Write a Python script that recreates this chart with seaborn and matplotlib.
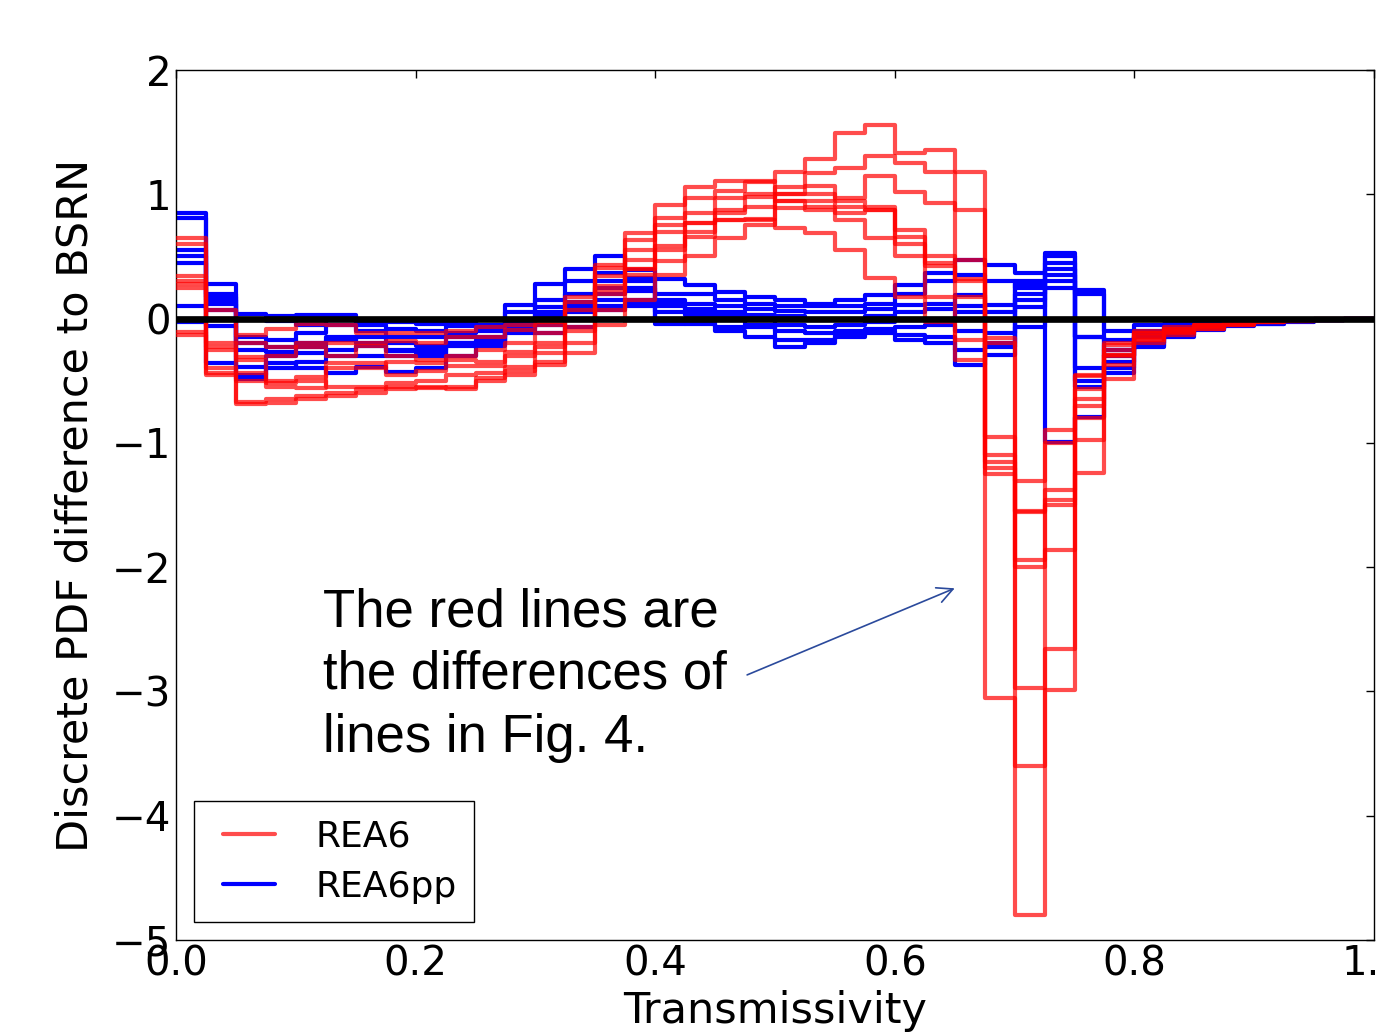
import numpy as np
import pandas as pd
import matplotlib
matplotlib.use("Agg")
import matplotlib.pyplot as plt
from matplotlib.lines import Line2D
from matplotlib.legend_handler import HandlerLine2D
import seaborn as sns

# ---- data: discrete PDF differences (40 bins, width 0.025) ----
bin_edges = [round(0.025 * i, 3) for i in range(41)]
bin_left = bin_edges[:-1]

rea6_a = [0.65, -0.2, -0.31, -0.3, -0.23, -0.3, -0.22, -0.3, -0.33, -0.3,
          -0.25, -0.2, -0.12, 0.07, 0.34, 0.63, 0.81, 0.97, 1.03, 1.1,
          1.18, 1.28, 1.49, 1.56, 1.33, 1.36, 1.18, -1.1, -1.55, -1.46,
          -0.65, -0.29, -0.17, -0.12, -0.08, -0.05, -0.03, -0.02, -0.01, 0.0]
rea6_b = [0.3, -0.44, -0.67, -0.65, -0.62, -0.6, -0.57, -0.55, -0.56, -0.55,
          -0.5, -0.45, -0.37, -0.2, 0.07, 0.35, 0.58, 0.77, 0.87, 0.98,
          1.06, 1.17, 1.21, 1.31, 1.25, 1.18, 0.87, -3.05, -4.8, -2.99,
          -1.24, -0.49, -0.2, -0.13, -0.08, -0.05, -0.03, -0.02, -0.01, 0.0]
rea6_c = [0.6, 0.07, -0.13, -0.08, -0.04, -0.05, -0.12, -0.12, -0.12, -0.1,
          -0.07, -0.05, -0.03, 0.17, 0.43, 0.69, 0.91, 1.06, 1.11, 1.11,
          1.0, 1.07, 0.97, 1.15, 1.02, 0.93, 0.47, -1.15, -3.6, -2.66,
          -0.98, -0.37, -0.15, -0.1, -0.06, -0.04, -0.02, -0.01, 0.0, 0.0]
rea6_d = [0.28, -0.23, -0.33, -0.5, -0.47, -0.4, -0.4, -0.35, -0.36, -0.33,
          -0.35, -0.27, -0.2, 0.0, 0.26, 0.47, 0.7, 0.85, 0.97, 1.0,
          0.95, 0.95, 0.9, 0.87, 0.71, 0.5, 0.32, -1.2, -2.97, -1.86,
          -0.8, -0.3, -0.12, -0.08, -0.05, -0.03, -0.02, -0.01, 0.0, 0.0]
rea6_e = [0.34, -0.25, -0.44, -0.52, -0.5, -0.55, -0.55, -0.52, -0.5, -0.45,
          -0.44, -0.39, -0.28, -0.1, 0.23, 0.4, 0.55, 0.7, 0.85, 0.9,
          0.89, 0.9, 0.85, 0.87, 0.66, 0.45, 0.17, -0.95, -1.94, -1.5,
          -0.57, -0.21, -0.1, -0.07, -0.05, -0.03, -0.02, -0.01, 0.0, 0.0]
rea6_f = [-0.11, -0.45, -0.69, -0.68, -0.65, -0.62, -0.6, -0.57, -0.55, -0.57,
          -0.48, -0.42, -0.35, -0.28, -0.05, 0.15, 0.35, 0.5, 0.65, 0.75,
          0.95, 0.87, 0.79, 0.65, 0.5, 0.17, -0.17, -0.16, -1.31, -1.0,
          -0.45, -0.2, -0.12, -0.08, -0.05, -0.03, -0.02, -0.01, -0.01, 0.0]
rea6_g = [0.25, 0.0, -0.2, -0.23, -0.2, -0.2, -0.2, -0.18, -0.2, -0.15,
          -0.15, -0.09, -0.05, 0.13, 0.41, 0.55, 0.75, 0.77, 0.79, 0.79,
          0.73, 0.69, 0.55, 0.33, 0.17, -0.03, -0.33, -0.2, -1.56, -0.9,
          -0.46, -0.25, -0.14, -0.1, -0.06, -0.04, -0.03, -0.02, -0.01, 0.0]
rea6_h = [-0.13, -0.4, -0.5, -0.55, -0.56, -0.36, -0.36, -0.45, -0.42, -0.38,
          -0.38, -0.3, -0.23, -0.07, 0.2, 0.4, 0.46, 0.66, 0.79, 0.8,
          1.0, 1.0, 0.95, 0.9, 0.6, 0.42, 0.3, -1.25, -2.0, -1.38,
          -0.7, -0.29, -0.17, -0.11, -0.07, -0.04, -0.03, -0.02, -0.01, 0.0]

rea6pp_a = [0.85, 0.28, 0.04, 0.02, 0.03, 0.03, -0.03, -0.03, -0.04, -0.03,
            -0.05, 0.11, 0.28, 0.4, 0.5, 0.39, 0.32, 0.27, 0.21, 0.17,
            0.15, 0.12, 0.15, 0.19, 0.27, 0.37, 0.47, 0.43, 0.37, 0.53,
            0.23, -0.1, -0.05, -0.04, -0.03, -0.02, -0.01, -0.01, 0.0, 0.0]
rea6pp_b = [0.81, 0.2, 0.0, -0.02, -0.05, -0.01, -0.05, -0.08, -0.1, -0.06,
            -0.08, 0.05, 0.15, 0.3, 0.37, 0.33, 0.2, 0.2, 0.15, 0.12,
            0.1, 0.1, 0.1, 0.12, 0.2, 0.3, 0.35, 0.3, 0.25, 0.45,
            0.2, -0.17, -0.1, -0.06, -0.04, -0.03, -0.02, -0.01, -0.01, 0.0]
rea6pp_c = [0.55, 0.17, -0.2, -0.23, -0.12, -0.05, -0.1, -0.15, -0.15, -0.12,
            -0.1, -0.02, 0.09, 0.2, 0.3, 0.3, 0.15, 0.12, 0.1, 0.08,
            0.06, 0.05, 0.05, 0.08, 0.11, 0.12, 0.19, 0.11, 0.2, 0.5,
            -0.15, -0.25, -0.12, -0.08, -0.05, -0.04, -0.03, -0.02, -0.01, 0.0]
rea6pp_d = [0.45, 0.15, -0.25, -0.27, -0.23, -0.15, -0.2, -0.26, -0.28, -0.2,
            -0.2, -0.06, 0.0, 0.13, 0.2, 0.22, 0.12, 0.08, 0.05, 0.03,
            0.02, 0.0, 0.0, 0.02, 0.05, 0.08, 0.1, 0.05, 0.09, 0.35,
            -0.15, -0.3, -0.15, -0.1, -0.07, -0.05, -0.03, -0.02, -0.01, 0.0]
rea6pp_e = [0.5, 0.07, -0.15, -0.17, -0.2, -0.17, -0.15, -0.2, -0.22, -0.15,
            -0.15, -0.03, 0.05, 0.1, 0.15, 0.15, 0.05, 0.03, 0.0, 0.0,
            -0.05, -0.07, -0.05, -0.03, 0.0, 0.0, 0.05, -0.12, 0.15, 0.3,
            -0.55, -0.44, -0.23, -0.15, -0.09, -0.06, -0.04, -0.03, -0.01, 0.0]
rea6pp_f = [0.1, -0.06, -0.39, -0.36, -0.4, -0.44, -0.39, -0.43, -0.4, -0.3,
            -0.22, -0.12, -0.12, -0.07, 0.07, 0.1, -0.04, -0.02, -0.07, -0.07,
            -0.1, -0.12, -0.1, -0.08, -0.07, -0.05, -0.1, -0.23, -0.07, 0.25,
            -0.5, -0.35, -0.2, -0.13, -0.08, -0.05, -0.04, -0.02, -0.01, 0.0]
rea6pp_g = [-0.03, -0.36, -0.49, -0.4, -0.35, -0.3, -0.3, -0.3, -0.3, -0.22,
            -0.2, -0.1, -0.05, 0.05, 0.1, 0.12, 0.0, -0.04, -0.1, -0.15,
            -0.23, -0.2, -0.15, -0.12, -0.13, -0.2, -0.37, -0.29, 0.3, -0.99,
            -0.79, -0.4, -0.22, -0.12, -0.08, -0.05, -0.03, -0.02, -0.01, 0.0]
rea6pp_h = [0.0, 0.12, -0.45, -0.3, -0.28, -0.25, -0.22, -0.25, -0.25, -0.2,
            -0.17, -0.08, 0.02, 0.07, 0.25, 0.25, 0.1, 0.05, 0.02, -0.05,
            -0.17, -0.17, -0.12, -0.1, -0.17, -0.15, -0.25, -0.2, 0.28, 0.4,
            -0.4, -0.25, -0.15, -0.1, -0.06, -0.04, -0.03, -0.02, -0.01, 0.0]

rea6_runs = [rea6_a, rea6_b, rea6_c, rea6_d, rea6_e, rea6_f, rea6_g, rea6_h]
rea6pp_runs = [rea6pp_a, rea6pp_b, rea6pp_c, rea6pp_d, rea6pp_e, rea6pp_f, rea6pp_g, rea6pp_h]

x_ticks = [0.0, 0.2, 0.4, 0.6, 0.8, 1.0]
y_ticks = [-5, -4, -3, -2, -1, 0, 1, 2]

def to_long(runs):
    rows = []
    for k, vals in enumerate(runs):
        for xl, v in zip(bin_left, vals):
            rows.append({"t": xl + 0.0125, "w": v, "run": f"r{k}"})
    return pd.DataFrame(rows)

df_red = to_long(rea6_runs)
df_blue = to_long(rea6pp_runs)

# ---- figure ----
sns.set_style("white")
plt.rcParams["font.family"] = ["DejaVu Sans"]
plt.rcParams["xtick.direction"] = "in"
plt.rcParams["ytick.direction"] = "in"
plt.rcParams["text.color"] = "black"
plt.rcParams["axes.labelcolor"] = "black"
plt.rcParams["xtick.color"] = "black"
plt.rcParams["ytick.color"] = "black"

fig = plt.figure(figsize=(13.82, 10.34), dpi=100)
ax = fig.add_axes([0.1274, 0.0909, 0.8668, 0.8414])

sns.histplot(data=df_blue, x="t", weights="w", hue="run", bins=bin_edges,
             element="step", fill=False, palette=["#0000ff"] * 8,
             linewidth=3, legend=False, ax=ax, zorder=2)
sns.histplot(data=df_red, x="t", weights="w", hue="run", bins=bin_edges,
             element="step", fill=False, palette=["#ff0000"] * 8,
             linewidth=3, alpha=0.7, legend=False, ax=ax, zorder=3)

ax.axhline(0, color="black", lw=4.8, zorder=5)

ax.set_xlim(0, 1)
ax.set_ylim(-5, 2)
ax.set_xticks(x_ticks)
ax.set_yticks(y_ticks)
ax.tick_params(axis="both", which="major", labelsize=29, length=6, width=1,
               top=True, right=True, color="black", labelcolor="black")
for s in ax.spines.values():
    s.set_visible(True)
    s.set_color("black")
    s.set_linewidth(1)

ax.set_xlabel("Transmissivity", fontsize=31, labelpad=4, color="black")
ax.set_ylabel("Discrete PDF difference to BSRN", fontsize=31, labelpad=11,
              color="black")

handles = [Line2D([], [], color="#ff0000", alpha=0.7, lw=3),
           Line2D([], [], color="#0000ff", lw=3)]
leg = ax.legend(handles, ["REA6", "REA6pp"], loc="lower left",
                bbox_to_anchor=(0.015, 0.021), borderaxespad=0,
                fontsize=26, handlelength=1.75, handletextpad=1.1,
                borderpad=0.5, fancybox=False, frameon=True, framealpha=1,
                edgecolor="black", labelspacing=0.45,
                handler_map={Line2D: HandlerLine2D(xpad=0.3)})
leg.get_frame().set_linewidth(1)
for t in leg.get_texts():
    t.set_color("black")

ax.annotate("The red lines are\nthe differences of\nlines in Fig. 4.",
            xy=(0.65, -2.17), xytext=(0.1227, -2.16),
            textcoords="data", fontsize=38, family="Liberation Sans",
            va="top", ha="left", linespacing=1.33, color="black",
            arrowprops=dict(arrowstyle="->", color="#2b4a9c", lw=1.2,
                            mutation_scale=28, shrinkA=0, shrinkB=0,
                            relpos=(1.05, 0.5)))

fig.savefig("out.png", dpi=100)
